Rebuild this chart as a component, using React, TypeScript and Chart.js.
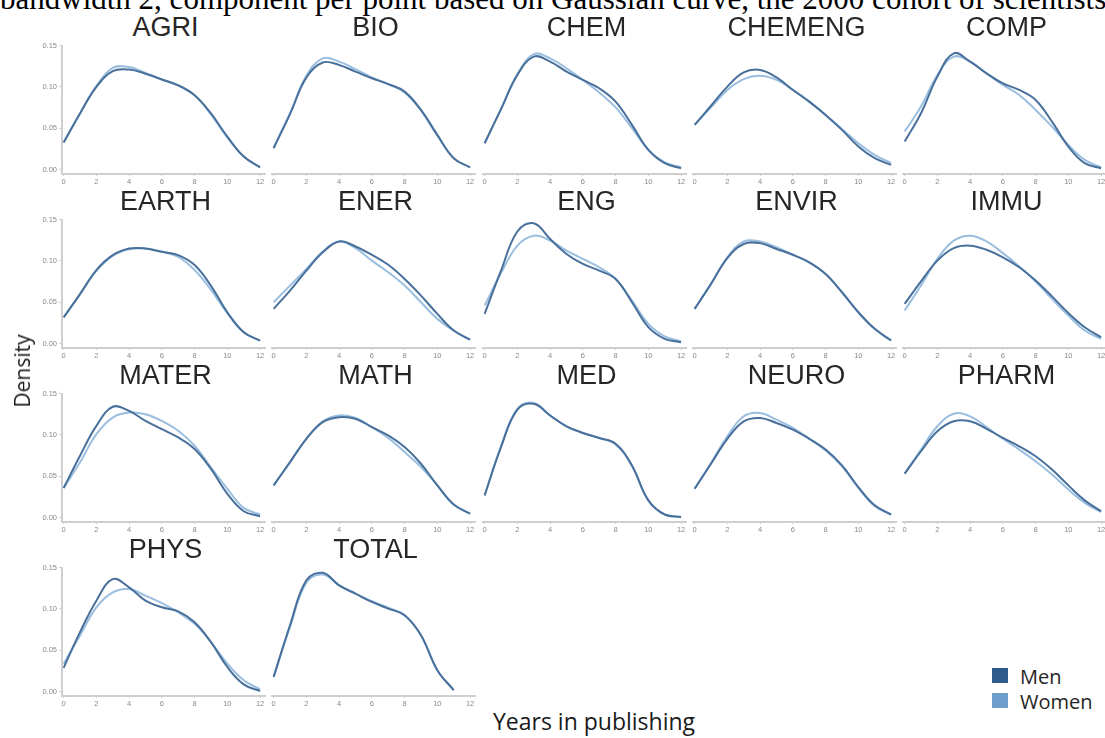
import React, { useEffect, useRef } from "react";
import { Chart, registerables } from "chart.js";

Chart.register(...registerables);

// ---------- data ----------
const YEARS = [0, 1, 2, 3, 4, 5, 6, 7, 8, 9, 10, 11, 12];
const X_TICKS = [0, 2, 4, 6, 8, 10, 12];
const Y_TICKS = [0, 0.05, 0.1, 0.15];
const FIELDS = ["AGRI", "BIO", "CHEM", "CHEMENG", "COMP", "EARTH", "ENER", "ENG", "ENVIR", "IMMU", "MATER", "MATH", "MED", "NEURO", "PHARM", "PHYS", "TOTAL"];
const SERIES_LABELS = ["Men", "Women"];
const CAPTION = "bandwidth 2, component per point based on Gaussian curve, the 2000 cohort of scientists";
const Y_TITLE = "Density";
const X_TITLE = "Years in publishing";

const AGRI_MEN = [0.033, 0.068, 0.100, 0.119, 0.121, 0.116, 0.109, 0.102, 0.090, 0.068, 0.040, 0.016, 0.003];
const AGRI_WOMEN = [0.033, 0.068, 0.101, 0.123, 0.124, 0.117, 0.109, 0.102, 0.090, 0.067, 0.039, 0.016, 0.003];
const BIO_MEN = [0.026, 0.067, 0.111, 0.129, 0.126, 0.118, 0.110, 0.103, 0.094, 0.072, 0.042, 0.014, 0.003];
const BIO_WOMEN = [0.027, 0.068, 0.113, 0.134, 0.130, 0.121, 0.111, 0.103, 0.093, 0.071, 0.041, 0.014, 0.003];
const CHEM_MEN = [0.032, 0.073, 0.114, 0.136, 0.130, 0.118, 0.108, 0.098, 0.082, 0.054, 0.024, 0.008, 0.002];
const CHEM_WOMEN = [0.032, 0.073, 0.115, 0.139, 0.134, 0.122, 0.108, 0.093, 0.075, 0.050, 0.024, 0.009, 0.003];
const CHEMENG_MEN = [0.054, 0.077, 0.100, 0.117, 0.120, 0.111, 0.096, 0.082, 0.066, 0.048, 0.028, 0.014, 0.006];
const CHEMENG_WOMEN = [0.054, 0.075, 0.096, 0.109, 0.113, 0.108, 0.096, 0.082, 0.066, 0.049, 0.032, 0.018, 0.008];
const COMP_MEN = [0.034, 0.068, 0.112, 0.140, 0.130, 0.116, 0.104, 0.096, 0.084, 0.058, 0.028, 0.008, 0.002];
const COMP_WOMEN = [0.046, 0.076, 0.114, 0.136, 0.130, 0.116, 0.102, 0.090, 0.072, 0.052, 0.030, 0.012, 0.003];
const EARTH_MEN = [0.032, 0.060, 0.089, 0.107, 0.115, 0.115, 0.111, 0.107, 0.095, 0.070, 0.038, 0.014, 0.004];
const EARTH_WOMEN = [0.032, 0.060, 0.088, 0.106, 0.114, 0.115, 0.111, 0.105, 0.089, 0.065, 0.037, 0.014, 0.004];
const ENER_MEN = [0.042, 0.064, 0.088, 0.110, 0.123, 0.117, 0.107, 0.095, 0.078, 0.058, 0.036, 0.016, 0.005];
const ENER_WOMEN = [0.050, 0.070, 0.090, 0.111, 0.123, 0.115, 0.100, 0.086, 0.070, 0.050, 0.030, 0.016, 0.005];
const ENG_MEN = [0.036, 0.088, 0.135, 0.145, 0.126, 0.108, 0.096, 0.088, 0.078, 0.050, 0.020, 0.006, 0.002];
const ENG_WOMEN = [0.046, 0.085, 0.118, 0.130, 0.124, 0.112, 0.102, 0.092, 0.078, 0.052, 0.024, 0.009, 0.003];
const ENVIR_MEN = [0.042, 0.072, 0.103, 0.120, 0.121, 0.114, 0.107, 0.098, 0.084, 0.062, 0.038, 0.018, 0.004];
const ENVIR_WOMEN = [0.042, 0.072, 0.104, 0.123, 0.123, 0.116, 0.107, 0.098, 0.084, 0.062, 0.038, 0.018, 0.004];
const IMMU_MEN = [0.048, 0.075, 0.100, 0.115, 0.118, 0.113, 0.104, 0.092, 0.076, 0.057, 0.037, 0.020, 0.008];
const IMMU_WOMEN = [0.040, 0.070, 0.102, 0.124, 0.130, 0.123, 0.109, 0.093, 0.075, 0.054, 0.034, 0.016, 0.006];
const MATER_MEN = [0.036, 0.075, 0.111, 0.134, 0.129, 0.117, 0.107, 0.097, 0.083, 0.059, 0.029, 0.008, 0.002];
const MATER_WOMEN = [0.036, 0.067, 0.101, 0.121, 0.127, 0.125, 0.117, 0.105, 0.087, 0.061, 0.035, 0.012, 0.004];
const MATH_MEN = [0.039, 0.067, 0.095, 0.115, 0.121, 0.119, 0.109, 0.099, 0.085, 0.065, 0.039, 0.016, 0.005];
const MATH_WOMEN = [0.039, 0.067, 0.095, 0.116, 0.123, 0.120, 0.109, 0.096, 0.079, 0.061, 0.039, 0.016, 0.005];
const MED_MEN = [0.027, 0.085, 0.130, 0.137, 0.123, 0.110, 0.102, 0.096, 0.089, 0.063, 0.021, 0.004, 0.001];
const MED_WOMEN = [0.027, 0.086, 0.131, 0.138, 0.123, 0.110, 0.102, 0.096, 0.088, 0.062, 0.021, 0.004, 0.001];
const NEURO_MEN = [0.035, 0.065, 0.095, 0.116, 0.120, 0.114, 0.106, 0.095, 0.082, 0.063, 0.037, 0.015, 0.004];
const NEURO_WOMEN = [0.035, 0.066, 0.098, 0.122, 0.126, 0.118, 0.108, 0.095, 0.081, 0.062, 0.036, 0.014, 0.004];
const PHARM_MEN = [0.053, 0.080, 0.104, 0.116, 0.116, 0.107, 0.096, 0.086, 0.074, 0.058, 0.039, 0.021, 0.008];
const PHARM_WOMEN = [0.053, 0.082, 0.110, 0.125, 0.122, 0.109, 0.095, 0.082, 0.068, 0.052, 0.034, 0.018, 0.007];
const PHYS_MEN = [0.029, 0.072, 0.110, 0.136, 0.126, 0.110, 0.102, 0.097, 0.084, 0.060, 0.030, 0.009, 0.001];
const PHYS_WOMEN = [0.034, 0.068, 0.102, 0.120, 0.124, 0.116, 0.107, 0.096, 0.082, 0.060, 0.034, 0.014, 0.003];
const TOTAL_MEN = [0.018, 0.080, 0.134, 0.143, 0.128, 0.118, 0.108, 0.100, 0.092, 0.068, 0.026, 0.002, null];
const TOTAL_WOMEN = [0.018, 0.078, 0.131, 0.141, 0.128, 0.118, 0.109, 0.101, 0.092, 0.068, 0.026, 0.002, null];

const MEN_SERIES: (number | null)[][] = [AGRI_MEN, BIO_MEN, CHEM_MEN, CHEMENG_MEN, COMP_MEN, EARTH_MEN, ENER_MEN, ENG_MEN, ENVIR_MEN, IMMU_MEN, MATER_MEN, MATH_MEN, MED_MEN, NEURO_MEN, PHARM_MEN, PHYS_MEN, TOTAL_MEN];
const WOMEN_SERIES: (number | null)[][] = [AGRI_WOMEN, BIO_WOMEN, CHEM_WOMEN, CHEMENG_WOMEN, COMP_WOMEN, EARTH_WOMEN, ENER_WOMEN, ENG_WOMEN, ENVIR_WOMEN, IMMU_WOMEN, MATER_WOMEN, MATH_WOMEN, MED_WOMEN, NEURO_WOMEN, PHARM_WOMEN, PHYS_WOMEN, TOTAL_WOMEN];

// ---------- styles / layout ----------
const MEN_LINE = "#48709b";
const WOMEN_LINE = "#9abedf";
const MEN_SWATCH = "#2d5b8c";
const WOMEN_SWATCH = "#6d9ecc";
const AXIS_COLOR = "#cfcfcf";
const TICK_COLOR = "#8a8a8a";

const PLOT_LEFT0 = 62;
const COL_PITCH = 210.3;
const PLOT_TOP0 = 45;
const ROW_PITCH = 174;
const PLOT_W = 203;
const PLOT_H = 129;
const Y_AXIS_W = 28;
const PAD_TOP = 6;
const PAD_RIGHT = 8;
const X_AXIS_H = 14;

function Panel({ index }: { index: number }) {
  const ref = useRef<HTMLCanvasElement>(null);
  const col = index % 5;
  const row = Math.floor(index / 5);
  const plotLeft = Math.round(PLOT_LEFT0 + col * COL_PITCH);
  const plotTop = PLOT_TOP0 + row * ROW_PITCH;
  const left = plotLeft - Y_AXIS_W;
  const top = plotTop - PAD_TOP;
  const width = Y_AXIS_W + PLOT_W + PAD_RIGHT;
  const height = PAD_TOP + PLOT_H + X_AXIS_H;
  const showY = col === 0;

  useEffect(() => {
    if (!ref.current) return;
    const mk = (vals: (number | null)[]) => YEARS.map((x, i) => ({ x, y: vals[i] }));
    const chart = new Chart(ref.current, {
      type: "line",
      data: {
        datasets: [
          {
            label: SERIES_LABELS[0],
            data: mk(MEN_SERIES[index]) as any,
            borderColor: MEN_LINE,
            borderWidth: 2,
            pointRadius: 0,
            tension: 0.4,
            fill: false,
            clip: false as any,
          },
          {
            label: SERIES_LABELS[1],
            data: mk(WOMEN_SERIES[index]) as any,
            borderColor: WOMEN_LINE,
            borderWidth: 2,
            pointRadius: 0,
            tension: 0.4,
            fill: false,
            clip: false as any,
          },
        ],
      },
      options: {
        responsive: false,
        animation: false,
        devicePixelRatio: 1,
        events: [],
        layout: { padding: { top: PAD_TOP, right: PAD_RIGHT, left: 0, bottom: 0 } },
        plugins: { legend: { display: false }, tooltip: { enabled: false }, title: { display: false } },
        scales: {
          x: {
            type: "linear",
            min: -0.1,
            max: 12.3,
            afterBuildTicks: (s: any) => {
              s.ticks = X_TICKS.map((v) => ({ value: v }));
            },
            afterFit: (s: any) => {
              s.height = X_AXIS_H;
            },
            grid: { display: true, drawOnChartArea: false, drawTicks: true, tickLength: 2, color: AXIS_COLOR },
            border: { display: true, color: AXIS_COLOR, width: 2 },
            ticks: {
              font: { family: "Liberation Sans", size: 7.5 },
              color: TICK_COLOR,
              padding: 1,
              maxRotation: 0,
              autoSkip: false,
            },
          },
          y: {
            type: "linear",
            min: -0.005,
            max: 0.15,
            afterBuildTicks: (s: any) => {
              s.ticks = Y_TICKS.map((v) => ({ value: v }));
            },
            afterFit: (s: any) => {
              s.width = Y_AXIS_W;
            },
            grid: { display: showY, drawOnChartArea: false, drawTicks: true, tickLength: 3, color: AXIS_COLOR },
            border: { display: showY, color: AXIS_COLOR, width: 2 },
            ticks: {
              display: showY,
              font: { family: "Liberation Sans", size: 7.5 },
              color: TICK_COLOR,
              padding: 2,
              callback: (v: any) => Number(v).toFixed(2),
            },
          },
        },
      },
    });
    return () => chart.destroy();
  }, [index]);

  return (
    <>
      <div
        style={{
          position: "absolute",
          left: plotLeft - 60,
          width: PLOT_W + 124,
          top: 13.5 + row * ROW_PITCH,
          textAlign: "center",
          font: "27px 'Liberation Sans', Arial, sans-serif",
          lineHeight: "27px",
          color: "#262626",
          whiteSpace: "nowrap",
        }}
      >
        {FIELDS[index]}
      </div>
      <canvas
        ref={ref}
        width={width}
        height={height}
        style={{ position: "absolute", left, top, width, height, display: "block" }}
      />
    </>
  );
}

export default function App() {
  return (
    <div
      style={{
        position: "absolute",
        left: 0,
        top: 0,
        width: 1105,
        height: 738,
        overflow: "hidden",
        background: "#ffffff",
      }}
    >
      <div
        style={{
          position: "absolute",
          left: 0,
          top: -17.5,
          font: "31px 'Liberation Serif', 'Times New Roman', serif",
          lineHeight: "31px",
          whiteSpace: "nowrap",
          color: "#000",
        }}
      >
        {CAPTION}
      </div>
      {FIELDS.map((_, i) => (
        <Panel key={i} index={i} />
      ))}
      <div
        style={{
          position: "absolute",
          left: 22,
          top: 371,
          transform: "translate(-50%, -50%) rotate(-90deg)",
          font: "21px 'Open Sans', sans-serif",
          color: "#1a1a1a",
          whiteSpace: "nowrap",
        }}
      >
        {Y_TITLE}
      </div>
      <div
        style={{
          position: "absolute",
          left: 594,
          top: 721,
          transform: "translate(-50%, -50%)",
          font: "23px 'Open Sans', sans-serif",
          color: "#1a1a1a",
          whiteSpace: "nowrap",
        }}
      >
        {X_TITLE}
      </div>
      {SERIES_LABELS.map((lab, i) => (
        <React.Fragment key={lab}>
          <div
            style={{
              position: "absolute",
              left: 992,
              top: 668 + i * 25,
              width: 16,
              height: 15,
              background: i === 0 ? MEN_SWATCH : WOMEN_SWATCH,
            }}
          />
          <div
            style={{
              position: "absolute",
              left: 1020,
              top: 676 + i * 25,
              transform: "translateY(-50%)",
              font: "20px 'Open Sans', sans-serif",
              color: "#262626",
              whiteSpace: "nowrap",
            }}
          >
            {lab}
          </div>
        </React.Fragment>
      ))}
    </div>
  );
}
